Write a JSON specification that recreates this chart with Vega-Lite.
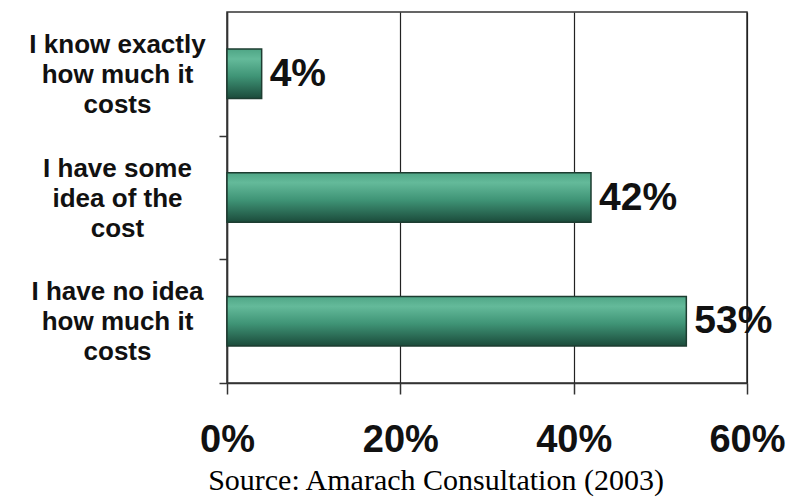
{
  "$schema": "https://vega.github.io/schema/vega-lite/v6.json",
  "width": 520,
  "height": 371,
  "autosize": "none",
  "padding": {"left": 227, "top": 12, "right": 41, "bottom": 115},
  "background": "white",
  "config": {
    "view": {"stroke": "#333333", "strokeWidth": 1.5},
    "font": "Liberation Sans"
  },
  "data": {
    "values": [
      {"answer": "I know exactly how much it costs", "share": 0.04},
      {"answer": "I have some idea of the cost", "share": 0.42},
      {"answer": "I have no idea how much it costs", "share": 0.53}
    ]
  },
  "title": {
    "text": "Source: Amarach Consultation (2003)",
    "orient": "bottom",
    "anchor": "middle",
    "font": "Liberation Serif",
    "fontSize": 30,
    "fontWeight": "normal",
    "color": "#000000",
    "dx": -51,
    "offset": 7
  },
  "encoding": {
    "y": {
      "field": "answer",
      "type": "nominal",
      "sort": null,
      "scale": {"paddingInner": 0.6, "paddingOuter": 0.3},
      "axis": {
        "title": null,
        "labelExpr": "datum.value == 'I know exactly how much it costs' ? ['I know exactly','how much it','costs'] : datum.value == 'I have some idea of the cost' ? ['I have some','idea of the','cost'] : ['I have no idea','how much it','costs']",
        "labelAlign": "center",
        "labelBaseline": "middle",
        "labelPadding": 102,
        "labelFontSize": 26,
        "labelFontWeight": "bold",
        "labelColor": "#111111",
        "labelLineHeight": 30,
        "labelLimit": 0,
        "tickOffset": 61.8,
        "labelOffset": -91,
        "tickSize": 8,
        "tickWidth": 1.5,
        "tickColor": "#333333",
        "domainColor": "#333333",
        "domainWidth": 1.5,
        "grid": false
      }
    },
    "x": {
      "field": "share",
      "type": "quantitative",
      "scale": {"domain": [0, 0.6]},
      "axis": {
        "title": null,
        "format": ".0%",
        "values": [0, 0.2, 0.4, 0.6],
        "grid": true,
        "gridColor": "#222222",
        "gridWidth": 1.2,
        "gridOpacity": 1,
        "tickSize": 11,
        "tickWidth": 1.5,
        "tickColor": "#333333",
        "labelPadding": 27,
        "labelFontSize": 38,
        "labelFontWeight": "bold",
        "labelColor": "#111111",
        "labelFlush": false,
        "domainColor": "#333333",
        "domainWidth": 1.5
      }
    }
  },
  "layer": [
    {
      "mark": {
        "type": "bar",
        "color": {
          "gradient": "linear",
          "x1": 0, "y1": 0, "x2": 0, "y2": 1,
          "stops": [
            {"offset": 0, "color": "#4fa686"},
            {"offset": 0.2, "color": "#64ba9a"},
            {"offset": 0.55, "color": "#3f9476"},
            {"offset": 1, "color": "#1b4b3b"}
          ]
        },
        "stroke": "#1d3d31",
        "strokeWidth": 1.5
      }
    },
    {
      "mark": {
        "type": "text",
        "align": "left",
        "baseline": "middle",
        "dx": 8,
        "fontSize": 39,
        "fontWeight": "bold",
        "font": "Liberation Sans",
        "color": "#111111"
      },
      "encoding": {
        "text": {"field": "share", "type": "quantitative", "format": ".0%"}
      }
    }
  ]
}
